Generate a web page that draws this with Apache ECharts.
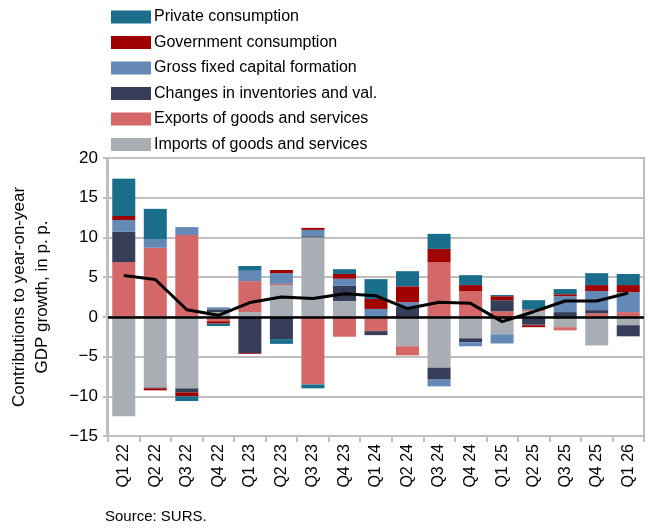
<!DOCTYPE html>
<html><head><meta charset="utf-8">
<script src="https://cdn.jsdelivr.net/npm/echarts@6/dist/echarts.min.js"></script>
<style>body{margin:0}#c{width:650px;height:532px}</style></head>
<body><div id="c"></div>
<script>
const categories = ['Q1 22','Q2 22','Q3 22','Q4 22','Q1 23','Q2 23','Q3 23','Q4 23','Q1 24','Q2 24','Q3 24','Q4 24','Q1 25','Q2 25','Q3 25','Q4 25','Q1 26'];
const privateCons = [4.7,3.8,-0.6,-0.3,0.6,-0.6,-0.5,0.6,2.5,1.9,1.9,1.25,0.15,1.2,0.65,1.5,1.4];
const govCons     = [0.5,-0.25,-0.5,-0.3,-0.1,0.4,0.25,0.6,1.25,2.0,1.65,0.75,0.5,-0.25,0.25,0.75,0.9];
const gfcf        = [1.5,1.1,1.0,0.25,1.3,1.35,0.8,0.9,1.0,0.6,-0.85,-0.5,-1.15,-0.05,2.0,2.4,2.5];
const inventories = [3.8,-0.1,-0.5,0.35,-4.55,-2.8,0.15,1.9,-0.5,1.25,-1.5,-0.5,1.4,-1.0,0.6,0.4,-1.4];
const exportsGS   = [6.9,8.7,10.3,-0.55,3.9,0.15,-8.5,-2.5,-1.6,-1.15,6.9,3.25,0.7,0.2,-0.4,0.45,0.6];
const importsGS   = [-12.5,-8.9,-9.0,0.6,0.6,4.0,10.0,2.0,-0.2,-3.7,-6.4,-2.7,-2.2,0.7,-1.3,-3.6,-1.05];
const gdpGrowth   = [5.2,4.7,0.9,0.2,1.8,2.5,2.3,2.9,2.65,1.05,1.85,1.7,-0.6,0.65,2.0,2.0,3.0];
const yTicks = [-15,-10,-5,0,5,10,15,20];

const F = 'Liberation Sans, Arial, sans-serif';
const mk = (name, data, color) => ({name, type:'bar', stack:'s', data, itemStyle:{color}, barCategoryGap:'27%'});
const chart = echarts.init(document.getElementById('c'));
chart.setOption({
  animation:false,
  textStyle:{fontFamily:F},
  grid:{left:107,right:6,top:158,bottom:96},
  legend:{orient:'vertical',left:106,top:4,itemGap:9.5,itemWidth:40,itemHeight:13,icon:'rect',
    textStyle:{fontSize:16,color:'#000',fontFamily:F,padding:[0,0,0,-2]},
    data:['Private consumption','Government consumption','Gross fixed capital formation','Changes in inventories and val.','Exports of goods and services','Imports of goods and services']},
  xAxis:{type:'category',data:categories,
    axisLine:{onZero:false,lineStyle:{color:'#bfbfbf',width:2}},
    axisTick:{show:true,alignWithLabel:false,length:6,lineStyle:{color:'#bfbfbf',width:2}},
    axisLabel:{rotate:90,fontSize:16,color:'#000',margin:8}},
  yAxis:{type:'value',min:-15,max:20,interval:5,
    name:'Contributions to year-on-year\nGDP growth, in p. p.',nameLocation:'middle',nameGap:54,
    nameTextStyle:{fontSize:17,color:'#000',lineHeight:23},
    axisLabel:{fontSize:17,color:'#000',margin:10,formatter:v=>yTicks.includes(v)?String(v).replace('-','\u2212'):''},
    axisLine:{show:true,lineStyle:{color:'#bfbfbf',width:2}},
    axisTick:{show:true,length:5,lineStyle:{color:'#bfbfbf',width:2}},
    splitLine:{lineStyle:{color:'#bfbfbf',width:2}}},
  series:[
    mk('Imports of goods and services',importsGS,'#a8aeb4'),
    mk('Exports of goods and services',exportsGS,'#d46767'),
    mk('Changes in inventories and val.',inventories,'#353d58'),
    mk('Gross fixed capital formation',gfcf,'#6589b6'),
    mk('Government consumption',govCons,'#a00000'),
    Object.assign(mk('Private consumption',privateCons,'#1a6e8b'),{
      markLine:{silent:true,symbol:'none',label:{show:false},lineStyle:{color:'#000',width:2.5,type:'solid'},data:[{yAxis:0}]}}),
    {name:'GDP',type:'line',data:gdpGrowth,symbol:'none',lineStyle:{color:'#000',width:3},z:10}
  ],
  graphic:[
    {type:'rect',shape:{x:107,y:158,width:537,height:278},style:{fill:'none',stroke:'#bfbfbf',lineWidth:2},silent:true},
    {type:'text',left:105,top:509,style:{text:'Source: SURS.',fontSize:15,fill:'#000',fontFamily:F}}
  ]
});
</script></body></html>
